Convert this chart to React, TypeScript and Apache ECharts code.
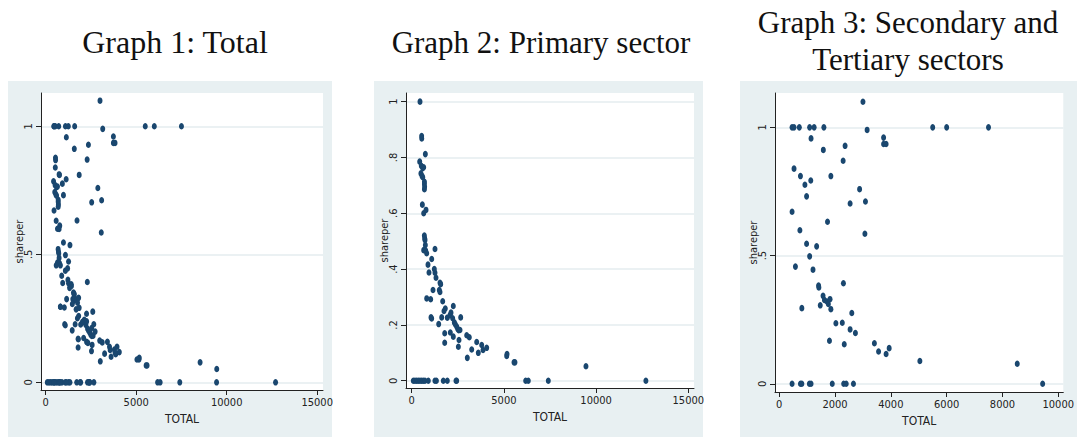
import React, { useEffect, useRef } from "react";
import * as echarts from "echarts";

// ---- Data ----
// Graph 2: Primary sector  [TOTAL, shareper]
const primaryPoints: number[][] = [
  [450, 1.0],
  [540, 0.877], [545, 0.868],
  [740, 0.812],
  [434, 0.785], [520, 0.77], [600, 0.762], [650, 0.765], [500, 0.743], [560, 0.734],
  [600, 0.729], [690, 0.713], [690, 0.705], [700, 0.695], [690, 0.686],
  [578, 0.631], [650, 0.6], [776, 0.612],
  [686, 0.52], [705, 0.51], [722, 0.504], [740, 0.486], [650, 0.468], [759, 0.466],
  [813, 0.457], [1263, 0.472],
  [884, 0.416], [1085, 0.436], [938, 0.388], [1227, 0.4], [1263, 0.387], [1318, 0.369],
  [1535, 0.351], [1572, 0.346], [1497, 0.325], [1535, 0.318], [1155, 0.325],
  [813, 0.295], [1030, 0.292], [1681, 0.285],
  [1751, 0.25], [1822, 0.259], [2256, 0.268], [1047, 0.227], [1083, 0.223],
  [1627, 0.227], [1464, 0.203],
  [1931, 0.226], [2077, 0.235], [2131, 0.244], [2222, 0.224], [2312, 0.209],
  [2365, 0.202], [2440, 0.194], [2494, 0.186], [2549, 0.181], [2657, 0.227], [2620, 0.182],
  [1790, 0.17], [2095, 0.173], [2256, 0.158], [1790, 0.136], [2565, 0.146], [2530, 0.122],
  [2983, 0.163], [3124, 0.156], [3016, 0.082], [3254, 0.112], [3525, 0.139], [3612, 0.1],
  [3796, 0.128], [3868, 0.11], [4067, 0.118],
  [5152, 0.089], [5170, 0.096], [5548, 0.066], [5600, 0.066], [9450, 0.052],
  [87, 0], [179, 0], [271, 0], [358, 0], [450, 0], [542, 0], [629, 0], [721, 0],
  [900, 0], [1260, 0], [1340, 0], [1714, 0], [1931, 0], [2402, 0], [2440, 0],
  [6182, 0], [6323, 0], [7408, 0], [12700, 0],
];

// Graph 3: Secondary and Tertiary sectors  [TOTAL, shareper]
const secTerPoints: number[][] = [
  [3000, 1.1],
  [460, 1], [530, 1], [720, 1], [1090, 1], [1250, 1], [1600, 1], [5500, 1], [6000, 1], [7500, 1],
  [3150, 0.99], [1140, 0.957], [3740, 0.96], [3740, 0.935], [3830, 0.935],
  [1580, 0.912], [2360, 0.928], [2290, 0.87], [530, 0.839], [760, 0.81], [1850, 0.81],
  [1130, 0.793], [920, 0.776], [2880, 0.759], [980, 0.731], [2540, 0.703], [3090, 0.711],
  [460, 0.671], [1730, 0.632], [740, 0.599], [3070, 0.585], [980, 0.546], [1340, 0.536],
  [1090, 0.497], [580, 0.457], [1210, 0.445], [2300, 0.392], [1410, 0.383], [1420, 0.376],
  [1570, 0.343], [1620, 0.327], [1710, 0.321], [1760, 0.311], [1820, 0.33], [1850, 0.291],
  [1470, 0.306], [810, 0.295], [2030, 0.236], [2260, 0.238], [2600, 0.276], [2540, 0.212],
  [2730, 0.198], [1800, 0.168], [2330, 0.154], [3410, 0.158], [3560, 0.126], [3830, 0.116],
  [3940, 0.139], [5040, 0.089], [8530, 0.078],
  [460, 0], [760, 0], [810, 0], [1080, 0], [1140, 0], [1900, 0], [2310, 0], [2400, 0],
  [2660, 0], [9440, 0],
];

// Graph 1: Total = both groups
const totalPoints: number[][] = [...primaryPoints, ...secTerPoints];

const titles = ["Graph 1: Total", "Graph 2: Primary sector", "Graph 3: Secondary and", "Tertiary sectors"];
const xTicks1 = [0, 5000, 10000, 15000];
const xTicks3 = [0, 2000, 4000, 6000, 8000, 10000];
const yTicks1 = [0, 0.5, 1];
const yTicks2 = [0, 0.2, 0.4, 0.6, 0.8, 1];
const xName = "TOTAL";
const yName = "shareper";

const NAVY = "#1a476f";
const BG = "#e8f0f2";
const GRIDLINE = "#e4ecef";
const AXISFONT = "'Liberation Sans Narrow', 'DejaVu Sans Condensed', Arial, sans-serif";
const TITLEFONT = "'Liberation Serif', 'DejaVu Serif', serif";

const fmtY = (v: number) => {
  const r = Math.round(v * 10) / 10;
  if (r === 0) return "0";
  if (r === 1) return "1";
  return String(r).replace(/^0\./, ".");
};
const fmtX = (v: number) => String(Math.round(v));

export default function App() {
  const ref = useRef<HTMLDivElement>(null);
  useEffect(() => {
    if (!ref.current) return;
    const chart = echarts.init(ref.current, undefined, { renderer: "svg" });

    const panels = [
      { left: 41, top: 93, width: 282, height: 297, xmin: -260, xmax: 15320, ymin: -0.03, ymax: 1.13, xt: xTicks1, yt: yTicks1, data: totalPoints },
      { left: 406, top: 93, width: 288, height: 295, xmin: -309, xmax: 15309, ymin: -0.026, ymax: 1.031, xt: xTicks1, yt: yTicks2, data: primaryPoints },
      { left: 775, top: 93, width: 293, height: 299, xmin: -152, xmax: 10180, ymin: -0.032, ymax: 1.134, xt: xTicks3, yt: yTicks1, data: secTerPoints },
    ];

    const option: any = {
      animation: false,
      backgroundColor: "#ffffff",
      grid: panels.map((p) => ({
        left: p.left, top: p.top, width: p.width, height: p.height,
        show: true, backgroundColor: "#ffffff", borderWidth: 0, containLabel: false,
      })),
      xAxis: panels.map((p, i) => ({
        type: "value", gridIndex: i, min: p.xmin, max: p.xmax,
        name: xName, nameLocation: "middle", nameGap: 20,
        nameTextStyle: { fontFamily: AXISFONT, fontSize: 12, color: "#222" },
        axisLine: { show: true, onZero: false, lineStyle: { color: "#222", width: 1 } },
        axisTick: { show: true, length: 5, customValues: p.xt, lineStyle: { color: "#222" } },
        axisLabel: { customValues: p.xt, margin: 7, fontFamily: AXISFONT, fontSize: 11, color: "#222", formatter: fmtX },
        splitLine: { show: false },
      })),
      yAxis: panels.map((p, i) => ({
        type: "value", gridIndex: i, min: p.ymin, max: p.ymax,
        name: yName, nameLocation: "middle", nameGap: 16, nameRotate: 90, nameMoveOverlap: false,
        nameTextStyle: { fontFamily: AXISFONT, fontSize: 11, color: "#222" },
        axisLine: { show: true, onZero: false, lineStyle: { color: "#222", width: 1 } },
        axisTick: { show: true, length: 5, customValues: p.yt, lineStyle: { color: "#222" } },
        axisLabel: { customValues: p.yt, rotate: 90, margin: 7, fontFamily: AXISFONT, fontSize: 11, color: "#222", formatter: fmtY },
        splitLine: { show: true, lineStyle: { color: GRIDLINE, width: 1.5 } },
      })),
      series: panels.map((p, i) => ({
        type: "scatter", xAxisIndex: i, yAxisIndex: i, data: p.data,
        symbol: "circle", symbolSize: [5, 6.5], clip: false,
        itemStyle: { color: NAVY, opacity: 1 },
      })),
      graphic: [
        { type: "rect", z: -10, shape: { x: 8, y: 81, width: 324, height: 356 }, style: { fill: BG } },
        { type: "rect", z: -10, shape: { x: 374, y: 81, width: 329, height: 356 }, style: { fill: BG } },
        { type: "rect", z: -10, shape: { x: 740, y: 81, width: 337, height: 356 }, style: { fill: BG } },
        { type: "text", x: 175, y: 42, style: { text: titles[0], fontFamily: TITLEFONT, fontSize: 32, fill: "#111", align: "center", verticalAlign: "middle" } },
        { type: "text", x: 541, y: 42, style: { text: titles[1], fontFamily: TITLEFONT, fontSize: 31, fill: "#111", align: "center", verticalAlign: "middle" } },
        { type: "text", x: 908, y: 22, style: { text: titles[2], fontFamily: TITLEFONT, fontSize: 31, fill: "#111", align: "center", verticalAlign: "middle" } },
        { type: "text", x: 908, y: 59, style: { text: titles[3], fontFamily: TITLEFONT, fontSize: 31, fill: "#111", align: "center", verticalAlign: "middle" } },
      ],
    };
    chart.setOption(option);
    return () => chart.dispose();
  }, []);
  return <div ref={ref} style={{ position: "fixed", left: 0, top: 0, width: 1077, height: 437 }} />;
}
